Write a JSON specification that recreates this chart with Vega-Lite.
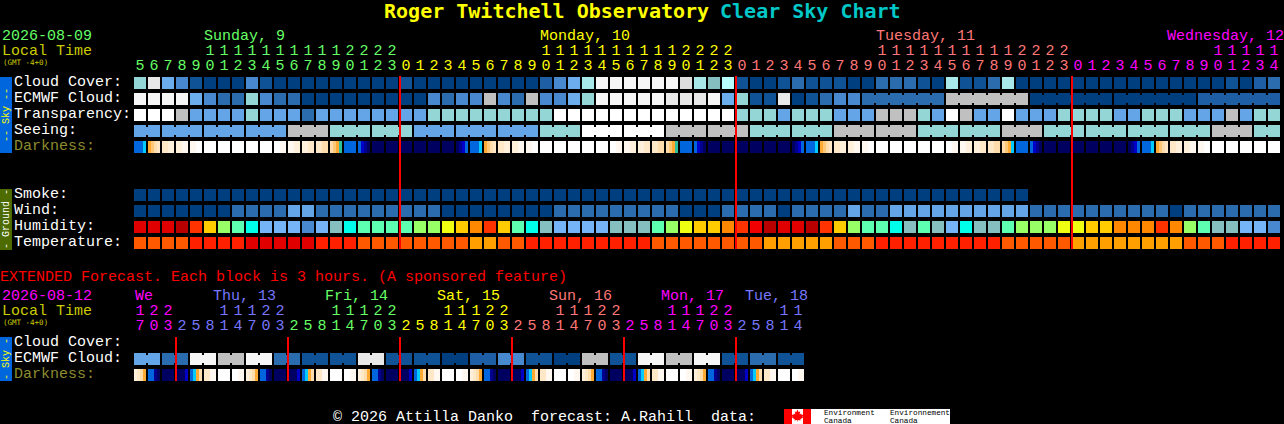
{"$schema":"https://vega.github.io/schema/vega-lite/v6.json","width":1284,"height":424,"padding":0,"autosize":{"type":"none"},"background":"#000000","config":{"view":{"stroke":null}},
"datasets":{
"panels":[{"col":-10,"col2":-9.143,"row":-0.375,"row2":4.375,"lvl":"sky"},{"col":-10,"col2":-9.143,"row":6.625,"row2":10.4375,"lvl":"gnd"},{"col":-10,"col2":-9.143,"row":15.875,"row2":18.625,"lvl":"sky"},{"col":46,"col2":57.857,"row":20.375,"row2":21.3125,"lvl":"w"},{"col":46,"col2":46.571,"row":20.375,"row2":21.3125,"lvl":"rd"},{"col":47.357,"col2":47.93,"row":20.375,"row2":21.3125,"lvl":"rd"}],
"rules":[{"col":18.5714,"row":-0.4375,"row2":10.375,"lvl":"rd"},{"col":42.5714,"row":-0.4375,"row2":10.375,"lvl":"rd"},{"col":66.5714,"row":-0.4375,"row2":10.375,"lvl":"rd"},{"col":2.5714,"row":15.875,"row2":18.625,"lvl":"rd"},{"col":10.5714,"row":15.875,"row2":18.625,"lvl":"rd"},{"col":18.5714,"row":15.875,"row2":18.625,"lvl":"rd"},{"col":26.5714,"row":15.875,"row2":18.625,"lvl":"rd"},{"col":34.5714,"row":15.875,"row2":18.625,"lvl":"rd"},{"col":42.5714,"row":15.875,"row2":18.625,"lvl":"rd"}],
"leaf":[{"col":46.964,"row":20.78,"lvl":"rd"}],
"cells":[
{"col":0,"row":0,"lvl":"t1"},{"col":1,"row":0,"lvl":"g2"},{"col":2,"row":0,"lvl":"b5"},{"col":3,"row":0,"lvl":"b3"},{"col":4,"row":0,"lvl":"b1"},{"col":5,"row":0,"lvl":"b0"},{"col":6,"row":0,"lvl":"b0"},{"col":7,"row":0,"lvl":"b0"},{"col":8,"row":0,"lvl":"b3"},{"col":9,"row":0,"lvl":"b1"},{"col":10,"row":0,"lvl":"b0"},{"col":11,"row":0,"lvl":"b0"},{"col":12,"row":0,"lvl":"b0"},{"col":13,"row":0,"lvl":"b0"},{"col":14,"row":0,"lvl":"b0"},{"col":15,"row":0,"lvl":"b0"},{"col":16,"row":0,"lvl":"b0"},{"col":17,"row":0,"lvl":"b0"},{"col":18,"row":0,"lvl":"b0"},{"col":19,"row":0,"lvl":"b1"},{"col":20,"row":0,"lvl":"b0"},{"col":21,"row":0,"lvl":"b0"},{"col":22,"row":0,"lvl":"b0"},{"col":23,"row":0,"lvl":"b0"},{"col":24,"row":0,"lvl":"b0"},{"col":25,"row":0,"lvl":"b0"},{"col":26,"row":0,"lvl":"b0"},{"col":27,"row":0,"lvl":"b0"},{"col":28,"row":0,"lvl":"b0"},{"col":29,"row":0,"lvl":"b1x"},{"col":30,"row":0,"lvl":"b3"},{"col":31,"row":0,"lvl":"b5"},{"col":32,"row":0,"lvl":"t2"},{"col":33,"row":0,"lvl":"g3"},{"col":34,"row":0,"lvl":"g3"},{"col":35,"row":0,"lvl":"g3"},{"col":36,"row":0,"lvl":"g3"},{"col":37,"row":0,"lvl":"g3"},{"col":38,"row":0,"lvl":"g3"},{"col":39,"row":0,"lvl":"g1"},{"col":40,"row":0,"lvl":"t2"},{"col":41,"row":0,"lvl":"tg"},{"col":42,"row":0,"lvl":"t3"},{"col":43,"row":0,"lvl":"b1"},{"col":44,"row":0,"lvl":"b0"},{"col":45,"row":0,"lvl":"b0"},{"col":46,"row":0,"lvl":"b1"},{"col":47,"row":0,"lvl":"b2"},{"col":48,"row":0,"lvl":"b1"},{"col":49,"row":0,"lvl":"b1"},{"col":50,"row":0,"lvl":"b1"},{"col":51,"row":0,"lvl":"b0"},{"col":52,"row":0,"lvl":"b0"},{"col":53,"row":0,"lvl":"b2"},{"col":54,"row":0,"lvl":"b2"},{"col":55,"row":0,"lvl":"b2"},{"col":56,"row":0,"lvl":"b1"},{"col":57,"row":0,"lvl":"b0"},{"col":58,"row":0,"lvl":"t2"},{"col":59,"row":0,"lvl":"b1"},{"col":60,"row":0,"lvl":"b1"},{"col":61,"row":0,"lvl":"b2"},{"col":62,"row":0,"lvl":"t2"},{"col":63,"row":0,"lvl":"b0"},{"col":64,"row":0,"lvl":"b0"},{"col":65,"row":0,"lvl":"b0"},{"col":66,"row":0,"lvl":"b0"},{"col":67,"row":0,"lvl":"b0"},{"col":68,"row":0,"lvl":"b0"},{"col":69,"row":0,"lvl":"b0"},{"col":70,"row":0,"lvl":"b0"},{"col":71,"row":0,"lvl":"b0"},{"col":72,"row":0,"lvl":"b0"},{"col":73,"row":0,"lvl":"b0"},{"col":74,"row":0,"lvl":"b0"},{"col":75,"row":0,"lvl":"b0"},{"col":76,"row":0,"lvl":"b0"},{"col":77,"row":0,"lvl":"b0"},{"col":78,"row":0,"lvl":"b1"},{"col":79,"row":0,"lvl":"b0"},{"col":80,"row":0,"lvl":"b1x"},{"col":81,"row":0,"lvl":"b2"},
{"col":0,"row":1,"lvl":"g3"},{"col":1,"row":1,"lvl":"g3"},{"col":2,"row":1,"lvl":"g3"},{"col":3,"row":1,"lvl":"g3"},{"col":4,"row":1,"lvl":"b5"},{"col":5,"row":1,"lvl":"b3"},{"col":6,"row":1,"lvl":"b2"},{"col":7,"row":1,"lvl":"b2"},{"col":8,"row":1,"lvl":"t1"},{"col":9,"row":1,"lvl":"b3"},{"col":10,"row":1,"lvl":"b2"},{"col":11,"row":1,"lvl":"b2"},{"col":12,"row":1,"lvl":"b0"},{"col":13,"row":1,"lvl":"b0"},{"col":14,"row":1,"lvl":"b0"},{"col":15,"row":1,"lvl":"b0"},{"col":16,"row":1,"lvl":"b0"},{"col":17,"row":1,"lvl":"b0"},{"col":18,"row":1,"lvl":"b0"},{"col":19,"row":1,"lvl":"b0"},{"col":20,"row":1,"lvl":"b0"},{"col":21,"row":1,"lvl":"b3"},{"col":22,"row":1,"lvl":"b2"},{"col":23,"row":1,"lvl":"b3"},{"col":24,"row":1,"lvl":"b3"},{"col":25,"row":1,"lvl":"g0"},{"col":26,"row":1,"lvl":"b3"},{"col":27,"row":1,"lvl":"b2"},{"col":28,"row":1,"lvl":"g0"},{"col":29,"row":1,"lvl":"b3"},{"col":30,"row":1,"lvl":"b3"},{"col":31,"row":1,"lvl":"b5"},{"col":32,"row":1,"lvl":"t1"},{"col":33,"row":1,"lvl":"g3"},{"col":34,"row":1,"lvl":"g3"},{"col":35,"row":1,"lvl":"g3"},{"col":36,"row":1,"lvl":"g3"},{"col":37,"row":1,"lvl":"g3"},{"col":38,"row":1,"lvl":"g2"},{"col":39,"row":1,"lvl":"g2"},{"col":40,"row":1,"lvl":"g2"},{"col":41,"row":1,"lvl":"g3"},{"col":42,"row":1,"lvl":"b5"},{"col":43,"row":1,"lvl":"t1"},{"col":44,"row":1,"lvl":"b1"},{"col":45,"row":1,"lvl":"b1"},{"col":46,"row":1,"lvl":"g2"},{"col":47,"row":1,"lvl":"b0"},{"col":48,"row":1,"lvl":"b1"},{"col":49,"row":1,"lvl":"b2"},{"col":50,"row":1,"lvl":"b3"},{"col":51,"row":1,"lvl":"b3"},{"col":52,"row":1,"lvl":"b2"},{"col":53,"row":1,"lvl":"b2"},{"col":54,"row":1,"lvl":"b2"},{"col":55,"row":1,"lvl":"b2"},{"col":56,"row":1,"lvl":"b2"},{"col":57,"row":1,"lvl":"b2"},{"col":58,"row":1,"lvl":"g0"},{"col":59,"row":1,"lvl":"g0"},{"col":60,"row":1,"lvl":"g0"},{"col":61,"row":1,"lvl":"g0"},{"col":62,"row":1,"lvl":"g0"},{"col":63,"row":1,"lvl":"g0"},{"col":64,"row":1,"lvl":"b0"},{"col":65,"row":1,"lvl":"b0"},{"col":66,"row":1,"lvl":"b0"},{"col":67,"row":1,"lvl":"b0"},{"col":68,"row":1,"lvl":"b0"},{"col":69,"row":1,"lvl":"b0"},{"col":70,"row":1,"lvl":"b0"},{"col":71,"row":1,"lvl":"b0"},{"col":72,"row":1,"lvl":"b0"},{"col":73,"row":1,"lvl":"b0"},{"col":74,"row":1,"lvl":"b0"},{"col":75,"row":1,"lvl":"b0"},{"col":76,"row":1,"lvl":"b1x"},{"col":77,"row":1,"lvl":"b1x"},{"col":78,"row":1,"lvl":"b1x"},{"col":79,"row":1,"lvl":"b1x"},{"col":80,"row":1,"lvl":"b1x"},{"col":81,"row":1,"lvl":"b1x"},
{"col":0,"row":2,"lvl":"w"},{"col":1,"row":2,"lvl":"w"},{"col":2,"row":2,"lvl":"w"},{"col":3,"row":2,"lvl":"g0"},{"col":4,"row":2,"lvl":"b4"},{"col":5,"row":2,"lvl":"b4"},{"col":6,"row":2,"lvl":"b4"},{"col":7,"row":2,"lvl":"b4"},{"col":8,"row":2,"lvl":"t1"},{"col":9,"row":2,"lvl":"b4"},{"col":10,"row":2,"lvl":"b4"},{"col":11,"row":2,"lvl":"b4"},{"col":12,"row":2,"lvl":"b2"},{"col":13,"row":2,"lvl":"b4"},{"col":14,"row":2,"lvl":"b4"},{"col":15,"row":2,"lvl":"b4"},{"col":16,"row":2,"lvl":"b4"},{"col":17,"row":2,"lvl":"b4"},{"col":18,"row":2,"lvl":"b4"},{"col":19,"row":2,"lvl":"b4"},{"col":20,"row":2,"lvl":"b4"},{"col":21,"row":2,"lvl":"t1"},{"col":22,"row":2,"lvl":"t1"},{"col":23,"row":2,"lvl":"t1"},{"col":24,"row":2,"lvl":"t1"},{"col":25,"row":2,"lvl":"t1"},{"col":26,"row":2,"lvl":"t1"},{"col":27,"row":2,"lvl":"t1"},{"col":28,"row":2,"lvl":"t1"},{"col":29,"row":2,"lvl":"t1"},{"col":30,"row":2,"lvl":"w"},{"col":31,"row":2,"lvl":"w"},{"col":32,"row":2,"lvl":"w"},{"col":33,"row":2,"lvl":"w"},{"col":34,"row":2,"lvl":"w"},{"col":35,"row":2,"lvl":"w"},{"col":36,"row":2,"lvl":"w"},{"col":37,"row":2,"lvl":"w"},{"col":38,"row":2,"lvl":"w"},{"col":39,"row":2,"lvl":"w"},{"col":40,"row":2,"lvl":"w"},{"col":41,"row":2,"lvl":"w"},{"col":42,"row":2,"lvl":"w"},{"col":43,"row":2,"lvl":"t1"},{"col":44,"row":2,"lvl":"t1"},{"col":45,"row":2,"lvl":"t1"},{"col":46,"row":2,"lvl":"b4"},{"col":47,"row":2,"lvl":"t1"},{"col":48,"row":2,"lvl":"t1"},{"col":49,"row":2,"lvl":"t1"},{"col":50,"row":2,"lvl":"b4"},{"col":51,"row":2,"lvl":"b4"},{"col":52,"row":2,"lvl":"b4"},{"col":53,"row":2,"lvl":"g0"},{"col":54,"row":2,"lvl":"g0"},{"col":55,"row":2,"lvl":"g0"},{"col":56,"row":2,"lvl":"t1"},{"col":57,"row":2,"lvl":"b4"},{"col":58,"row":2,"lvl":"w"},{"col":59,"row":2,"lvl":"g0"},{"col":60,"row":2,"lvl":"b4"},{"col":61,"row":2,"lvl":"b4"},{"col":62,"row":2,"lvl":"w"},{"col":63,"row":2,"lvl":"b4"},{"col":64,"row":2,"lvl":"b4"},{"col":65,"row":2,"lvl":"b4"},{"col":66,"row":2,"lvl":"t1"},{"col":67,"row":2,"lvl":"t1"},{"col":68,"row":2,"lvl":"t1"},{"col":69,"row":2,"lvl":"t1"},{"col":70,"row":2,"lvl":"b4"},{"col":71,"row":2,"lvl":"b4"},{"col":72,"row":2,"lvl":"t1"},{"col":73,"row":2,"lvl":"t1"},{"col":74,"row":2,"lvl":"t1"},{"col":75,"row":2,"lvl":"b4"},{"col":76,"row":2,"lvl":"b4"},{"col":77,"row":2,"lvl":"b4"},{"col":78,"row":2,"lvl":"g0"},{"col":79,"row":2,"lvl":"b4"},{"col":80,"row":2,"lvl":"t1"},{"col":81,"row":2,"lvl":"t1"},
{"col":0,"row":3,"lvl":"b4"},{"col":1,"row":3,"lvl":"b4"},{"col":2,"row":3,"lvl":"b4"},{"col":3,"row":3,"lvl":"b4"},{"col":4,"row":3,"lvl":"b4"},{"col":5,"row":3,"lvl":"b4"},{"col":6,"row":3,"lvl":"b4"},{"col":7,"row":3,"lvl":"b4"},{"col":8,"row":3,"lvl":"b4"},{"col":9,"row":3,"lvl":"b4"},{"col":10,"row":3,"lvl":"b4"},{"col":11,"row":3,"lvl":"g0"},{"col":12,"row":3,"lvl":"g0"},{"col":13,"row":3,"lvl":"g0"},{"col":14,"row":3,"lvl":"t1"},{"col":15,"row":3,"lvl":"t1"},{"col":16,"row":3,"lvl":"t1"},{"col":17,"row":3,"lvl":"t1"},{"col":18,"row":3,"lvl":"t1"},{"col":19,"row":3,"lvl":"t1"},{"col":20,"row":3,"lvl":"b4"},{"col":21,"row":3,"lvl":"b4"},{"col":22,"row":3,"lvl":"b4"},{"col":23,"row":3,"lvl":"b4"},{"col":24,"row":3,"lvl":"b4"},{"col":25,"row":3,"lvl":"b4"},{"col":26,"row":3,"lvl":"b4"},{"col":27,"row":3,"lvl":"b4"},{"col":28,"row":3,"lvl":"b4"},{"col":29,"row":3,"lvl":"t1"},{"col":30,"row":3,"lvl":"t1"},{"col":31,"row":3,"lvl":"t1"},{"col":32,"row":3,"lvl":"w"},{"col":33,"row":3,"lvl":"w"},{"col":34,"row":3,"lvl":"w"},{"col":35,"row":3,"lvl":"w"},{"col":36,"row":3,"lvl":"w"},{"col":37,"row":3,"lvl":"w"},{"col":38,"row":3,"lvl":"g0"},{"col":39,"row":3,"lvl":"g0"},{"col":40,"row":3,"lvl":"g0"},{"col":41,"row":3,"lvl":"g0"},{"col":42,"row":3,"lvl":"g0"},{"col":43,"row":3,"lvl":"g0"},{"col":44,"row":3,"lvl":"t1"},{"col":45,"row":3,"lvl":"t1"},{"col":46,"row":3,"lvl":"t1"},{"col":47,"row":3,"lvl":"t1"},{"col":48,"row":3,"lvl":"t1"},{"col":49,"row":3,"lvl":"t1"},{"col":50,"row":3,"lvl":"g0"},{"col":51,"row":3,"lvl":"g0"},{"col":52,"row":3,"lvl":"g0"},{"col":53,"row":3,"lvl":"g0"},{"col":54,"row":3,"lvl":"g0"},{"col":55,"row":3,"lvl":"g0"},{"col":56,"row":3,"lvl":"t1"},{"col":57,"row":3,"lvl":"t1"},{"col":58,"row":3,"lvl":"t1"},{"col":59,"row":3,"lvl":"t1"},{"col":60,"row":3,"lvl":"t1"},{"col":61,"row":3,"lvl":"t1"},{"col":62,"row":3,"lvl":"g0"},{"col":63,"row":3,"lvl":"g0"},{"col":64,"row":3,"lvl":"g0"},{"col":65,"row":3,"lvl":"t1"},{"col":66,"row":3,"lvl":"t1"},{"col":67,"row":3,"lvl":"t1"},{"col":68,"row":3,"lvl":"t1"},{"col":69,"row":3,"lvl":"t1"},{"col":70,"row":3,"lvl":"t1"},{"col":71,"row":3,"lvl":"t1"},{"col":72,"row":3,"lvl":"t1"},{"col":73,"row":3,"lvl":"t1"},{"col":74,"row":3,"lvl":"t1"},{"col":75,"row":3,"lvl":"t1"},{"col":76,"row":3,"lvl":"t1"},{"col":77,"row":3,"lvl":"g0"},{"col":78,"row":3,"lvl":"g0"},{"col":79,"row":3,"lvl":"g0"},{"col":80,"row":3,"lvl":"t1"},{"col":81,"row":3,"lvl":"t1"},
{"col":5,"row":4,"lvl":"w"},{"col":6,"row":4,"lvl":"w"},{"col":7,"row":4,"lvl":"w"},{"col":8,"row":4,"lvl":"w"},{"col":9,"row":4,"lvl":"w"},{"col":15,"row":4,"lvl":"bl"},{"col":17,"row":4,"lvl":"n0"},{"col":18,"row":4,"lvl":"n0"},{"col":19,"row":4,"lvl":"n0"},{"col":20,"row":4,"lvl":"n0"},{"col":21,"row":4,"lvl":"n0"},{"col":22,"row":4,"lvl":"n0"},{"col":29,"row":4,"lvl":"w"},{"col":30,"row":4,"lvl":"w"},{"col":31,"row":4,"lvl":"w"},{"col":32,"row":4,"lvl":"w"},{"col":33,"row":4,"lvl":"w"},{"col":39,"row":4,"lvl":"bl"},{"col":41,"row":4,"lvl":"n0"},{"col":42,"row":4,"lvl":"n0"},{"col":43,"row":4,"lvl":"n0"},{"col":44,"row":4,"lvl":"n0"},{"col":45,"row":4,"lvl":"n0"},{"col":46,"row":4,"lvl":"n0"},{"col":53,"row":4,"lvl":"w"},{"col":54,"row":4,"lvl":"w"},{"col":55,"row":4,"lvl":"w"},{"col":56,"row":4,"lvl":"w"},{"col":57,"row":4,"lvl":"w"},{"col":63,"row":4,"lvl":"bl"},{"col":65,"row":4,"lvl":"n0"},{"col":66,"row":4,"lvl":"n0"},{"col":67,"row":4,"lvl":"n0"},{"col":68,"row":4,"lvl":"n0"},{"col":69,"row":4,"lvl":"n0"},{"col":70,"row":4,"lvl":"n0"},{"col":77,"row":4,"lvl":"w"},{"col":78,"row":4,"lvl":"w"},{"col":79,"row":4,"lvl":"w"},{"col":80,"row":4,"lvl":"w"},{"col":81,"row":4,"lvl":"w"},
{"col":0,"row":7,"lvl":"b0"},{"col":1,"row":7,"lvl":"b0"},{"col":2,"row":7,"lvl":"b0"},{"col":3,"row":7,"lvl":"b0"},{"col":4,"row":7,"lvl":"b0"},{"col":5,"row":7,"lvl":"b0"},{"col":6,"row":7,"lvl":"b0"},{"col":7,"row":7,"lvl":"b0"},{"col":8,"row":7,"lvl":"b0"},{"col":9,"row":7,"lvl":"b0"},{"col":10,"row":7,"lvl":"b0"},{"col":11,"row":7,"lvl":"b0"},{"col":12,"row":7,"lvl":"b0"},{"col":13,"row":7,"lvl":"b0"},{"col":14,"row":7,"lvl":"b0"},{"col":15,"row":7,"lvl":"b0"},{"col":16,"row":7,"lvl":"b0"},{"col":17,"row":7,"lvl":"b0"},{"col":18,"row":7,"lvl":"b0"},{"col":19,"row":7,"lvl":"b0"},{"col":20,"row":7,"lvl":"b0"},{"col":21,"row":7,"lvl":"b0"},{"col":22,"row":7,"lvl":"b0"},{"col":23,"row":7,"lvl":"b0"},{"col":24,"row":7,"lvl":"b0"},{"col":25,"row":7,"lvl":"b0"},{"col":26,"row":7,"lvl":"b0"},{"col":27,"row":7,"lvl":"b0"},{"col":28,"row":7,"lvl":"b0"},{"col":29,"row":7,"lvl":"b0"},{"col":30,"row":7,"lvl":"b0"},{"col":31,"row":7,"lvl":"b0"},{"col":32,"row":7,"lvl":"b0"},{"col":33,"row":7,"lvl":"b0"},{"col":34,"row":7,"lvl":"b0"},{"col":35,"row":7,"lvl":"b0"},{"col":36,"row":7,"lvl":"b0"},{"col":37,"row":7,"lvl":"b0"},{"col":38,"row":7,"lvl":"b0"},{"col":39,"row":7,"lvl":"b0"},{"col":40,"row":7,"lvl":"b0"},{"col":41,"row":7,"lvl":"b0"},{"col":42,"row":7,"lvl":"b0"},{"col":43,"row":7,"lvl":"b0"},{"col":44,"row":7,"lvl":"b0"},{"col":45,"row":7,"lvl":"b0"},{"col":46,"row":7,"lvl":"b0"},{"col":47,"row":7,"lvl":"b0"},{"col":48,"row":7,"lvl":"b0"},{"col":49,"row":7,"lvl":"b0"},{"col":50,"row":7,"lvl":"b0"},{"col":51,"row":7,"lvl":"b0"},{"col":52,"row":7,"lvl":"b0"},{"col":53,"row":7,"lvl":"b0"},{"col":54,"row":7,"lvl":"b0"},{"col":55,"row":7,"lvl":"b0"},{"col":56,"row":7,"lvl":"b0"},{"col":57,"row":7,"lvl":"b0"},{"col":58,"row":7,"lvl":"b0"},{"col":59,"row":7,"lvl":"b0"},{"col":60,"row":7,"lvl":"b0"},{"col":61,"row":7,"lvl":"b0"},{"col":62,"row":7,"lvl":"b0"},{"col":63,"row":7,"lvl":"b0"},
{"col":0,"row":8,"lvl":"b0"},{"col":1,"row":8,"lvl":"b0"},{"col":2,"row":8,"lvl":"b0"},{"col":3,"row":8,"lvl":"b0"},{"col":4,"row":8,"lvl":"b0"},{"col":5,"row":8,"lvl":"b0"},{"col":6,"row":8,"lvl":"b0"},{"col":7,"row":8,"lvl":"b2"},{"col":8,"row":8,"lvl":"b2"},{"col":9,"row":8,"lvl":"b2"},{"col":10,"row":8,"lvl":"b2"},{"col":11,"row":8,"lvl":"b4"},{"col":12,"row":8,"lvl":"b4"},{"col":13,"row":8,"lvl":"b2"},{"col":14,"row":8,"lvl":"b2"},{"col":15,"row":8,"lvl":"b2"},{"col":16,"row":8,"lvl":"b2"},{"col":17,"row":8,"lvl":"b2"},{"col":18,"row":8,"lvl":"b2"},{"col":19,"row":8,"lvl":"b2"},{"col":20,"row":8,"lvl":"b2"},{"col":21,"row":8,"lvl":"b2"},{"col":22,"row":8,"lvl":"b0"},{"col":23,"row":8,"lvl":"b0"},{"col":24,"row":8,"lvl":"b0"},{"col":25,"row":8,"lvl":"b0"},{"col":26,"row":8,"lvl":"b0"},{"col":27,"row":8,"lvl":"b0"},{"col":28,"row":8,"lvl":"b0"},{"col":29,"row":8,"lvl":"b0"},{"col":30,"row":8,"lvl":"b2"},{"col":31,"row":8,"lvl":"b2"},{"col":32,"row":8,"lvl":"b2"},{"col":33,"row":8,"lvl":"b2"},{"col":34,"row":8,"lvl":"b2"},{"col":35,"row":8,"lvl":"b2"},{"col":36,"row":8,"lvl":"b2"},{"col":37,"row":8,"lvl":"b2"},{"col":38,"row":8,"lvl":"b2"},{"col":39,"row":8,"lvl":"b0"},{"col":40,"row":8,"lvl":"b0"},{"col":41,"row":8,"lvl":"b0"},{"col":42,"row":8,"lvl":"b2"},{"col":43,"row":8,"lvl":"b2"},{"col":44,"row":8,"lvl":"b2"},{"col":45,"row":8,"lvl":"b2"},{"col":46,"row":8,"lvl":"b0"},{"col":47,"row":8,"lvl":"b2"},{"col":48,"row":8,"lvl":"b2"},{"col":49,"row":8,"lvl":"b2"},{"col":50,"row":8,"lvl":"b2"},{"col":51,"row":8,"lvl":"b4"},{"col":52,"row":8,"lvl":"b2"},{"col":53,"row":8,"lvl":"b2"},{"col":54,"row":8,"lvl":"b4"},{"col":55,"row":8,"lvl":"b4"},{"col":56,"row":8,"lvl":"b4"},{"col":57,"row":8,"lvl":"b4"},{"col":58,"row":8,"lvl":"b4"},{"col":59,"row":8,"lvl":"b4"},{"col":60,"row":8,"lvl":"b4"},{"col":61,"row":8,"lvl":"b4"},{"col":62,"row":8,"lvl":"b4"},{"col":63,"row":8,"lvl":"b4"},{"col":64,"row":8,"lvl":"b2"},{"col":65,"row":8,"lvl":"b2"},{"col":66,"row":8,"lvl":"b2"},{"col":67,"row":8,"lvl":"b2"},{"col":68,"row":8,"lvl":"b2"},{"col":69,"row":8,"lvl":"b2"},{"col":70,"row":8,"lvl":"b2"},{"col":71,"row":8,"lvl":"b2"},{"col":72,"row":8,"lvl":"b2"},{"col":73,"row":8,"lvl":"b2"},{"col":74,"row":8,"lvl":"b0"},{"col":75,"row":8,"lvl":"b2"},{"col":76,"row":8,"lvl":"b2"},{"col":77,"row":8,"lvl":"b2"},{"col":78,"row":8,"lvl":"b2"},{"col":79,"row":8,"lvl":"b2"},{"col":80,"row":8,"lvl":"b2"},{"col":81,"row":8,"lvl":"b2"},
{"col":0,"row":9,"lvl":"hr1"},{"col":1,"row":9,"lvl":"hr1"},{"col":2,"row":9,"lvl":"hr1"},{"col":3,"row":9,"lvl":"hr2"},{"col":4,"row":9,"lvl":"ho1"},{"col":5,"row":9,"lvl":"hy1"},{"col":6,"row":9,"lvl":"hl"},{"col":7,"row":9,"lvl":"hm"},{"col":8,"row":9,"lvl":"hc"},{"col":9,"row":9,"lvl":"hs"},{"col":10,"row":9,"lvl":"hs"},{"col":11,"row":9,"lvl":"hs"},{"col":12,"row":9,"lvl":"b3"},{"col":13,"row":9,"lvl":"hs"},{"col":14,"row":9,"lvl":"tg"},{"col":15,"row":9,"lvl":"hc"},{"col":16,"row":9,"lvl":"hm"},{"col":17,"row":9,"lvl":"hm"},{"col":18,"row":9,"lvl":"hm"},{"col":19,"row":9,"lvl":"hm"},{"col":20,"row":9,"lvl":"hl"},{"col":21,"row":9,"lvl":"hl"},{"col":22,"row":9,"lvl":"hy2"},{"col":23,"row":9,"lvl":"hy1"},{"col":24,"row":9,"lvl":"ho2"},{"col":25,"row":9,"lvl":"ho1"},{"col":26,"row":9,"lvl":"hy1"},{"col":27,"row":9,"lvl":"hm"},{"col":28,"row":9,"lvl":"hc"},{"col":29,"row":9,"lvl":"tg"},{"col":30,"row":9,"lvl":"hs"},{"col":31,"row":9,"lvl":"hs"},{"col":32,"row":9,"lvl":"hs"},{"col":33,"row":9,"lvl":"hs"},{"col":34,"row":9,"lvl":"tg"},{"col":35,"row":9,"lvl":"tg"},{"col":36,"row":9,"lvl":"tg"},{"col":37,"row":9,"lvl":"hm"},{"col":38,"row":9,"lvl":"hl"},{"col":39,"row":9,"lvl":"hy2"},{"col":40,"row":9,"lvl":"hy1"},{"col":41,"row":9,"lvl":"hy1"},{"col":42,"row":9,"lvl":"ho2"},{"col":43,"row":9,"lvl":"ho1"},{"col":44,"row":9,"lvl":"hr3"},{"col":45,"row":9,"lvl":"hr2"},{"col":46,"row":9,"lvl":"hr1"},{"col":47,"row":9,"lvl":"hr1"},{"col":48,"row":9,"lvl":"hr2"},{"col":49,"row":9,"lvl":"ho1"},{"col":50,"row":9,"lvl":"hy1"},{"col":51,"row":9,"lvl":"hl"},{"col":52,"row":9,"lvl":"hm"},{"col":53,"row":9,"lvl":"hm"},{"col":54,"row":9,"lvl":"hc"},{"col":55,"row":9,"lvl":"tg"},{"col":56,"row":9,"lvl":"hm"},{"col":57,"row":9,"lvl":"tg"},{"col":58,"row":9,"lvl":"hs"},{"col":59,"row":9,"lvl":"hc"},{"col":60,"row":9,"lvl":"tg"},{"col":61,"row":9,"lvl":"tg"},{"col":62,"row":9,"lvl":"hm"},{"col":63,"row":9,"lvl":"hl"},{"col":64,"row":9,"lvl":"hl"},{"col":65,"row":9,"lvl":"hl"},{"col":66,"row":9,"lvl":"hy2"},{"col":67,"row":9,"lvl":"hy2"},{"col":68,"row":9,"lvl":"hy1"},{"col":69,"row":9,"lvl":"hy1"},{"col":70,"row":9,"lvl":"ho2"},{"col":71,"row":9,"lvl":"ho2"},{"col":72,"row":9,"lvl":"ho2"},{"col":73,"row":9,"lvl":"ho1"},{"col":74,"row":9,"lvl":"ho2"},{"col":75,"row":9,"lvl":"hl"},{"col":76,"row":9,"lvl":"hm"},{"col":77,"row":9,"lvl":"tg"},{"col":78,"row":9,"lvl":"tg"},{"col":79,"row":9,"lvl":"hs"},{"col":80,"row":9,"lvl":"hs"},{"col":81,"row":9,"lvl":"b3"},
{"col":0,"row":10,"lvl":"tp1"},{"col":1,"row":10,"lvl":"tp1"},{"col":2,"row":10,"lvl":"tp1"},{"col":3,"row":10,"lvl":"tp1"},{"col":4,"row":10,"lvl":"tp3"},{"col":5,"row":10,"lvl":"tp3"},{"col":6,"row":10,"lvl":"tp3"},{"col":7,"row":10,"lvl":"tp3"},{"col":8,"row":10,"lvl":"tp4"},{"col":9,"row":10,"lvl":"tp4"},{"col":10,"row":10,"lvl":"tp4"},{"col":11,"row":10,"lvl":"tp4"},{"col":12,"row":10,"lvl":"tp4"},{"col":13,"row":10,"lvl":"tp3"},{"col":14,"row":10,"lvl":"tp3"},{"col":15,"row":10,"lvl":"tp3"},{"col":16,"row":10,"lvl":"tp1"},{"col":17,"row":10,"lvl":"tp1"},{"col":18,"row":10,"lvl":"tp1"},{"col":19,"row":10,"lvl":"tp1"},{"col":20,"row":10,"lvl":"tp1"},{"col":21,"row":10,"lvl":"tp1"},{"col":22,"row":10,"lvl":"tp1"},{"col":23,"row":10,"lvl":"tp1"},{"col":24,"row":10,"lvl":"tp2"},{"col":25,"row":10,"lvl":"tp2"},{"col":26,"row":10,"lvl":"tp1"},{"col":27,"row":10,"lvl":"tp1"},{"col":28,"row":10,"lvl":"tp3"},{"col":29,"row":10,"lvl":"tp3"},{"col":30,"row":10,"lvl":"tp3"},{"col":31,"row":10,"lvl":"tp3"},{"col":32,"row":10,"lvl":"tp3"},{"col":33,"row":10,"lvl":"tp3"},{"col":34,"row":10,"lvl":"tp3"},{"col":35,"row":10,"lvl":"tp3"},{"col":36,"row":10,"lvl":"tp3"},{"col":37,"row":10,"lvl":"tp1"},{"col":38,"row":10,"lvl":"tp1"},{"col":39,"row":10,"lvl":"tp1"},{"col":40,"row":10,"lvl":"tp1"},{"col":41,"row":10,"lvl":"tp1"},{"col":42,"row":10,"lvl":"tp1"},{"col":43,"row":10,"lvl":"tp1"},{"col":44,"row":10,"lvl":"tp1"},{"col":45,"row":10,"lvl":"tp2"},{"col":46,"row":10,"lvl":"tp2"},{"col":47,"row":10,"lvl":"tp2"},{"col":48,"row":10,"lvl":"tp2"},{"col":49,"row":10,"lvl":"tp2"},{"col":50,"row":10,"lvl":"tp1"},{"col":51,"row":10,"lvl":"tp1"},{"col":52,"row":10,"lvl":"tp1"},{"col":53,"row":10,"lvl":"tp3"},{"col":54,"row":10,"lvl":"tp3"},{"col":55,"row":10,"lvl":"tp3"},{"col":56,"row":10,"lvl":"tp3"},{"col":57,"row":10,"lvl":"tp3"},{"col":58,"row":10,"lvl":"tp3"},{"col":59,"row":10,"lvl":"tp3"},{"col":60,"row":10,"lvl":"tp3"},{"col":61,"row":10,"lvl":"tp3"},{"col":62,"row":10,"lvl":"tp1"},{"col":63,"row":10,"lvl":"tp1"},{"col":64,"row":10,"lvl":"tp1"},{"col":65,"row":10,"lvl":"tp1"},{"col":66,"row":10,"lvl":"tp1"},{"col":67,"row":10,"lvl":"tp2"},{"col":68,"row":10,"lvl":"tp2"},{"col":69,"row":10,"lvl":"tp2"},{"col":70,"row":10,"lvl":"tp2"},{"col":71,"row":10,"lvl":"tp2"},{"col":72,"row":10,"lvl":"tp2"},{"col":73,"row":10,"lvl":"tp2"},{"col":74,"row":10,"lvl":"tp2"},{"col":75,"row":10,"lvl":"tp1"},{"col":76,"row":10,"lvl":"tp1"},{"col":77,"row":10,"lvl":"tp1"},{"col":78,"row":10,"lvl":"tp3"},{"col":79,"row":10,"lvl":"tp3"},{"col":80,"row":10,"lvl":"tp3"},{"col":81,"row":10,"lvl":"tp3"},
{"col":0,"row":17.25,"lvl":"b4"},{"col":1,"row":17.25,"lvl":"b4"},{"col":2,"row":17.25,"lvl":"b2"},{"col":3,"row":17.25,"lvl":"b2"},{"col":4,"row":17.25,"lvl":"g3"},{"col":5,"row":17.25,"lvl":"g3"},{"col":6,"row":17.25,"lvl":"g0"},{"col":7,"row":17.25,"lvl":"g0"},{"col":8,"row":17.25,"lvl":"g3"},{"col":9,"row":17.25,"lvl":"g3"},{"col":10,"row":17.25,"lvl":"b2"},{"col":11,"row":17.25,"lvl":"b2"},{"col":12,"row":17.25,"lvl":"b1"},{"col":13,"row":17.25,"lvl":"b1"},{"col":14,"row":17.25,"lvl":"b1"},{"col":15,"row":17.25,"lvl":"b1"},{"col":16,"row":17.25,"lvl":"g2"},{"col":17,"row":17.25,"lvl":"g2"},{"col":18,"row":17.25,"lvl":"b1"},{"col":19,"row":17.25,"lvl":"b1"},{"col":20,"row":17.25,"lvl":"b1"},{"col":21,"row":17.25,"lvl":"b1"},{"col":22,"row":17.25,"lvl":"b0"},{"col":23,"row":17.25,"lvl":"b0"},{"col":24,"row":17.25,"lvl":"b1x"},{"col":25,"row":17.25,"lvl":"b1x"},{"col":26,"row":17.25,"lvl":"b3"},{"col":27,"row":17.25,"lvl":"b3"},{"col":28,"row":17.25,"lvl":"b1"},{"col":29,"row":17.25,"lvl":"b1"},{"col":30,"row":17.25,"lvl":"b0"},{"col":31,"row":17.25,"lvl":"b0"},{"col":32,"row":17.25,"lvl":"g0"},{"col":33,"row":17.25,"lvl":"g0"},{"col":34,"row":17.25,"lvl":"b1"},{"col":35,"row":17.25,"lvl":"b1"},{"col":36,"row":17.25,"lvl":"g3"},{"col":37,"row":17.25,"lvl":"g3"},{"col":38,"row":17.25,"lvl":"g0"},{"col":39,"row":17.25,"lvl":"g0"},{"col":40,"row":17.25,"lvl":"g3"},{"col":41,"row":17.25,"lvl":"g3"},{"col":42,"row":17.25,"lvl":"b1"},{"col":43,"row":17.25,"lvl":"b1"},{"col":44,"row":17.25,"lvl":"b2"},{"col":45,"row":17.25,"lvl":"b2"},{"col":46,"row":17.25,"lvl":"b1"},{"col":47,"row":17.25,"lvl":"b1"},
{"col":2,"row":18.25,"lvl":"n0"},{"col":6,"row":18.25,"lvl":"w"},{"col":10,"row":18.25,"lvl":"n0"},{"col":14,"row":18.25,"lvl":"w"},{"col":18,"row":18.25,"lvl":"n0"},{"col":22,"row":18.25,"lvl":"w"},{"col":26,"row":18.25,"lvl":"n0"},{"col":30,"row":18.25,"lvl":"w"},{"col":34,"row":18.25,"lvl":"n0"},{"col":38,"row":18.25,"lvl":"w"},{"col":42,"row":18.25,"lvl":"n0"},{"col":46,"row":18.25,"lvl":"w"}],
"links":[
{"col":52.5,"row":1,"lvl":"b2"},{"col":53.5,"row":1,"lvl":"b2"},{"col":54.5,"row":1,"lvl":"b2"},{"col":55.5,"row":1,"lvl":"b2"},{"col":56.5,"row":1,"lvl":"b2"},{"col":58.5,"row":1,"lvl":"g0"},{"col":59.5,"row":1,"lvl":"g0"},{"col":60.5,"row":1,"lvl":"g0"},{"col":61.5,"row":1,"lvl":"g0"},{"col":62.5,"row":1,"lvl":"g0"},{"col":64.5,"row":1,"lvl":"b0"},{"col":65.5,"row":1,"lvl":"b0"},{"col":66.5,"row":1,"lvl":"b0"},{"col":67.5,"row":1,"lvl":"b0"},{"col":68.5,"row":1,"lvl":"b0"},{"col":70.5,"row":1,"lvl":"b0"},{"col":71.5,"row":1,"lvl":"b0"},{"col":72.5,"row":1,"lvl":"b0"},{"col":73.5,"row":1,"lvl":"b0"},{"col":74.5,"row":1,"lvl":"b0"},{"col":76.5,"row":1,"lvl":"b1x"},{"col":77.5,"row":1,"lvl":"b1x"},{"col":78.5,"row":1,"lvl":"b1x"},{"col":79.5,"row":1,"lvl":"b1x"},{"col":80.5,"row":1,"lvl":"b1x"},
{"col":0.5,"row":3,"lvl":"b4"},{"col":2.5,"row":3,"lvl":"b4"},{"col":3.5,"row":3,"lvl":"b4"},{"col":5.5,"row":3,"lvl":"b4"},{"col":6.5,"row":3,"lvl":"b4"},{"col":8.5,"row":3,"lvl":"b4"},{"col":9.5,"row":3,"lvl":"b4"},{"col":11.5,"row":3,"lvl":"g0"},{"col":12.5,"row":3,"lvl":"g0"},{"col":14.5,"row":3,"lvl":"t1"},{"col":15.5,"row":3,"lvl":"t1"},{"col":17.5,"row":3,"lvl":"t1"},{"col":18.5,"row":3,"lvl":"t1"},{"col":20.5,"row":3,"lvl":"b4"},{"col":21.5,"row":3,"lvl":"b4"},{"col":23.5,"row":3,"lvl":"b4"},{"col":24.5,"row":3,"lvl":"b4"},{"col":26.5,"row":3,"lvl":"b4"},{"col":27.5,"row":3,"lvl":"b4"},{"col":29.5,"row":3,"lvl":"t1"},{"col":30.5,"row":3,"lvl":"t1"},{"col":32.5,"row":3,"lvl":"w"},{"col":33.5,"row":3,"lvl":"w"},{"col":35.5,"row":3,"lvl":"w"},{"col":36.5,"row":3,"lvl":"w"},{"col":38.5,"row":3,"lvl":"g0"},{"col":39.5,"row":3,"lvl":"g0"},{"col":41.5,"row":3,"lvl":"g0"},{"col":42.5,"row":3,"lvl":"g0"},{"col":44.5,"row":3,"lvl":"t1"},{"col":45.5,"row":3,"lvl":"t1"},{"col":47.5,"row":3,"lvl":"t1"},{"col":48.5,"row":3,"lvl":"t1"},{"col":50.5,"row":3,"lvl":"g0"},{"col":51.5,"row":3,"lvl":"g0"},{"col":53.5,"row":3,"lvl":"g0"},{"col":54.5,"row":3,"lvl":"g0"},{"col":56.5,"row":3,"lvl":"t1"},{"col":57.5,"row":3,"lvl":"t1"},{"col":59.5,"row":3,"lvl":"t1"},{"col":60.5,"row":3,"lvl":"t1"},{"col":62.5,"row":3,"lvl":"g0"},{"col":63.5,"row":3,"lvl":"g0"},{"col":65.5,"row":3,"lvl":"t1"},{"col":66.5,"row":3,"lvl":"t1"},{"col":68.5,"row":3,"lvl":"t1"},{"col":69.5,"row":3,"lvl":"t1"},{"col":71.5,"row":3,"lvl":"t1"},{"col":72.5,"row":3,"lvl":"t1"},{"col":74.5,"row":3,"lvl":"t1"},{"col":75.5,"row":3,"lvl":"t1"},{"col":77.5,"row":3,"lvl":"g0"},{"col":78.5,"row":3,"lvl":"g0"},{"col":80.5,"row":3,"lvl":"t1"},
{"col":0.5,"row":17.25,"lvl":"b4"},{"col":2.5,"row":17.25,"lvl":"b2"},{"col":4.5,"row":17.25,"lvl":"g3"},{"col":6.5,"row":17.25,"lvl":"g0"},{"col":8.5,"row":17.25,"lvl":"g3"},{"col":10.5,"row":17.25,"lvl":"b2"},{"col":12.5,"row":17.25,"lvl":"b1"},{"col":14.5,"row":17.25,"lvl":"b1"},{"col":16.5,"row":17.25,"lvl":"g2"},{"col":18.5,"row":17.25,"lvl":"b1"},{"col":20.5,"row":17.25,"lvl":"b1"},{"col":22.5,"row":17.25,"lvl":"b0"},{"col":24.5,"row":17.25,"lvl":"b1x"},{"col":26.5,"row":17.25,"lvl":"b3"},{"col":28.5,"row":17.25,"lvl":"b1"},{"col":30.5,"row":17.25,"lvl":"b0"},{"col":32.5,"row":17.25,"lvl":"g0"},{"col":34.5,"row":17.25,"lvl":"b1"},{"col":36.5,"row":17.25,"lvl":"g3"},{"col":38.5,"row":17.25,"lvl":"g0"},{"col":40.5,"row":17.25,"lvl":"g3"},{"col":42.5,"row":17.25,"lvl":"b1"},{"col":44.5,"row":17.25,"lvl":"b2"},{"col":46.5,"row":17.25,"lvl":"b1"}],
"slices4":[
{"col":-0.3214,"row":4,"lvl":"bl"},{"col":-0.1071,"row":4,"lvl":"bl"},{"col":0.1071,"row":4,"lvl":"bl"},{"col":0.3214,"row":4,"lvl":"cy"},
{"col":0.6786,"row":4,"lvl":"o1"},{"col":0.8929,"row":4,"lvl":"o2"},{"col":1.1071,"row":4,"lvl":"o3"},{"col":1.3214,"row":4,"lvl":"o4"},
{"col":13.6786,"row":4,"lvl":"o3"},{"col":13.8929,"row":4,"lvl":"o2"},{"col":14.1071,"row":4,"lvl":"o1"},{"col":14.3214,"row":4,"lvl":"tl"},
{"col":15.6786,"row":4,"lvl":"bl"},{"col":15.8929,"row":4,"lvl":"n2"},{"col":16.1071,"row":4,"lvl":"n1"},{"col":16.3214,"row":4,"lvl":"n0"},
{"col":22.6786,"row":4,"lvl":"n0"},{"col":22.8929,"row":4,"lvl":"n1"},{"col":23.1071,"row":4,"lvl":"n2"},{"col":23.3214,"row":4,"lvl":"bl"},
{"col":23.6786,"row":4,"lvl":"bl"},{"col":23.8929,"row":4,"lvl":"bl"},{"col":24.1071,"row":4,"lvl":"bl"},{"col":24.3214,"row":4,"lvl":"cy"},
{"col":24.6786,"row":4,"lvl":"o1"},{"col":24.8929,"row":4,"lvl":"o2"},{"col":25.1071,"row":4,"lvl":"o3"},{"col":25.3214,"row":4,"lvl":"o4"},
{"col":37.6786,"row":4,"lvl":"o3"},{"col":37.8929,"row":4,"lvl":"o2"},{"col":38.1071,"row":4,"lvl":"o1"},{"col":38.3214,"row":4,"lvl":"tl"},
{"col":39.6786,"row":4,"lvl":"bl"},{"col":39.8929,"row":4,"lvl":"n2"},{"col":40.1071,"row":4,"lvl":"n1"},{"col":40.3214,"row":4,"lvl":"n0"},
{"col":46.6786,"row":4,"lvl":"n0"},{"col":46.8929,"row":4,"lvl":"n1"},{"col":47.1071,"row":4,"lvl":"n2"},{"col":47.3214,"row":4,"lvl":"bl"},
{"col":47.6786,"row":4,"lvl":"bl"},{"col":47.8929,"row":4,"lvl":"bl"},{"col":48.1071,"row":4,"lvl":"bl"},{"col":48.3214,"row":4,"lvl":"cy"},
{"col":48.6786,"row":4,"lvl":"o1"},{"col":48.8929,"row":4,"lvl":"o2"},{"col":49.1071,"row":4,"lvl":"o3"},{"col":49.3214,"row":4,"lvl":"o4"},
{"col":61.6786,"row":4,"lvl":"o3"},{"col":61.8929,"row":4,"lvl":"o2"},{"col":62.1071,"row":4,"lvl":"o1"},{"col":62.3214,"row":4,"lvl":"cy"},
{"col":63.6786,"row":4,"lvl":"bl"},{"col":63.8929,"row":4,"lvl":"n2"},{"col":64.1071,"row":4,"lvl":"n1"},{"col":64.3214,"row":4,"lvl":"n0"},
{"col":70.6786,"row":4,"lvl":"n0"},{"col":70.8929,"row":4,"lvl":"n1"},{"col":71.1071,"row":4,"lvl":"n2"},{"col":71.3214,"row":4,"lvl":"bl"},
{"col":71.6786,"row":4,"lvl":"bl"},{"col":71.8929,"row":4,"lvl":"bl"},{"col":72.1071,"row":4,"lvl":"bl"},{"col":72.3214,"row":4,"lvl":"cy"},
{"col":72.6786,"row":4,"lvl":"o1"},{"col":72.8929,"row":4,"lvl":"o2"},{"col":73.1071,"row":4,"lvl":"o3"},{"col":73.3214,"row":4,"lvl":"o4"},
{"col":-0.3214,"row":18.25,"lvl":"o5"},{"col":-0.1071,"row":18.25,"lvl":"o4"},{"col":0.1071,"row":18.25,"lvl":"o3"},{"col":0.3214,"row":18.25,"lvl":"o1"},
{"col":0.6786,"row":18.25,"lvl":"bl"},{"col":0.8929,"row":18.25,"lvl":"bl"},{"col":1.1071,"row":18.25,"lvl":"n1"},{"col":1.3214,"row":18.25,"lvl":"n0"},
{"col":2.6786,"row":18.25,"lvl":"n0"},{"col":2.8929,"row":18.25,"lvl":"n0"},{"col":3.1071,"row":18.25,"lvl":"n0"},{"col":3.3214,"row":18.25,"lvl":"n2"},
{"col":3.6786,"row":18.25,"lvl":"bl"},{"col":3.8929,"row":18.25,"lvl":"cy"},{"col":4.1071,"row":18.25,"lvl":"o1"},{"col":4.3214,"row":18.25,"lvl":"o3"},
{"col":7.6786,"row":18.25,"lvl":"o5"},{"col":7.8929,"row":18.25,"lvl":"o4"},{"col":8.1071,"row":18.25,"lvl":"o3"},{"col":8.3214,"row":18.25,"lvl":"o1"},
{"col":8.6786,"row":18.25,"lvl":"bl"},{"col":8.8929,"row":18.25,"lvl":"bl"},{"col":9.1071,"row":18.25,"lvl":"n1"},{"col":9.3214,"row":18.25,"lvl":"n0"},
{"col":10.6786,"row":18.25,"lvl":"n0"},{"col":10.8929,"row":18.25,"lvl":"n0"},{"col":11.1071,"row":18.25,"lvl":"n0"},{"col":11.3214,"row":18.25,"lvl":"n2"},
{"col":11.6786,"row":18.25,"lvl":"bl"},{"col":11.8929,"row":18.25,"lvl":"cy"},{"col":12.1071,"row":18.25,"lvl":"o1"},{"col":12.3214,"row":18.25,"lvl":"o3"},
{"col":15.6786,"row":18.25,"lvl":"o5"},{"col":15.8929,"row":18.25,"lvl":"o4"},{"col":16.1071,"row":18.25,"lvl":"o3"},{"col":16.3214,"row":18.25,"lvl":"o1"},
{"col":16.6786,"row":18.25,"lvl":"bl"},{"col":16.8929,"row":18.25,"lvl":"bl"},{"col":17.1071,"row":18.25,"lvl":"n1"},{"col":17.3214,"row":18.25,"lvl":"n0"},
{"col":18.6786,"row":18.25,"lvl":"n0"},{"col":18.8929,"row":18.25,"lvl":"n0"},{"col":19.1071,"row":18.25,"lvl":"n0"},{"col":19.3214,"row":18.25,"lvl":"n2"},
{"col":19.6786,"row":18.25,"lvl":"bl"},{"col":19.8929,"row":18.25,"lvl":"cy"},{"col":20.1071,"row":18.25,"lvl":"o1"},{"col":20.3214,"row":18.25,"lvl":"o3"},
{"col":23.6786,"row":18.25,"lvl":"o5"},{"col":23.8929,"row":18.25,"lvl":"o4"},{"col":24.1071,"row":18.25,"lvl":"o3"},{"col":24.3214,"row":18.25,"lvl":"o1"},
{"col":24.6786,"row":18.25,"lvl":"bl"},{"col":24.8929,"row":18.25,"lvl":"bl"},{"col":25.1071,"row":18.25,"lvl":"n1"},{"col":25.3214,"row":18.25,"lvl":"n0"},
{"col":26.6786,"row":18.25,"lvl":"n0"},{"col":26.8929,"row":18.25,"lvl":"n0"},{"col":27.1071,"row":18.25,"lvl":"n0"},{"col":27.3214,"row":18.25,"lvl":"n2"},
{"col":27.6786,"row":18.25,"lvl":"bl"},{"col":27.8929,"row":18.25,"lvl":"cy"},{"col":28.1071,"row":18.25,"lvl":"o1"},{"col":28.3214,"row":18.25,"lvl":"o3"},
{"col":31.6786,"row":18.25,"lvl":"o5"},{"col":31.8929,"row":18.25,"lvl":"o4"},{"col":32.1071,"row":18.25,"lvl":"o3"},{"col":32.3214,"row":18.25,"lvl":"o1"},
{"col":32.6786,"row":18.25,"lvl":"bl"},{"col":32.8929,"row":18.25,"lvl":"bl"},{"col":33.1071,"row":18.25,"lvl":"n1"},{"col":33.3214,"row":18.25,"lvl":"n0"},
{"col":34.6786,"row":18.25,"lvl":"n0"},{"col":34.8929,"row":18.25,"lvl":"n0"},{"col":35.1071,"row":18.25,"lvl":"n0"},{"col":35.3214,"row":18.25,"lvl":"n2"},
{"col":35.6786,"row":18.25,"lvl":"bl"},{"col":35.8929,"row":18.25,"lvl":"cy"},{"col":36.1071,"row":18.25,"lvl":"o1"},{"col":36.3214,"row":18.25,"lvl":"o3"},
{"col":39.6786,"row":18.25,"lvl":"o5"},{"col":39.8929,"row":18.25,"lvl":"o4"},{"col":40.1071,"row":18.25,"lvl":"o3"},{"col":40.3214,"row":18.25,"lvl":"o1"},
{"col":40.6786,"row":18.25,"lvl":"bl"},{"col":40.8929,"row":18.25,"lvl":"bl"},{"col":41.1071,"row":18.25,"lvl":"n1"},{"col":41.3214,"row":18.25,"lvl":"n0"},
{"col":42.6786,"row":18.25,"lvl":"n0"},{"col":42.8929,"row":18.25,"lvl":"n0"},{"col":43.1071,"row":18.25,"lvl":"n0"},{"col":43.3214,"row":18.25,"lvl":"n2"},
{"col":43.6786,"row":18.25,"lvl":"bl"},{"col":43.8929,"row":18.25,"lvl":"cy"},{"col":44.1071,"row":18.25,"lvl":"o1"},{"col":44.3214,"row":18.25,"lvl":"o3"}],
"slices2":[
{"col":1.7857,"row":4,"lvl":"o4"},{"col":2.2143,"row":4,"lvl":"o5"},{"col":2.7857,"row":4,"lvl":"o5"},{"col":3.2143,"row":4,"lvl":"o6"},{"col":3.7857,"row":4,"lvl":"o6"},{"col":4.2143,"row":4,"lvl":"w"},{"col":9.7857,"row":4,"lvl":"w"},{"col":10.2143,"row":4,"lvl":"o6"},{"col":10.7857,"row":4,"lvl":"o6"},{"col":11.2143,"row":4,"lvl":"o5"},{"col":11.7857,"row":4,"lvl":"o5"},{"col":12.2143,"row":4,"lvl":"o4"},{"col":12.7857,"row":4,"lvl":"o4"},{"col":13.2143,"row":4,"lvl":"o3"},
{"col":25.7857,"row":4,"lvl":"o4"},{"col":26.2143,"row":4,"lvl":"o5"},{"col":26.7857,"row":4,"lvl":"o5"},{"col":27.2143,"row":4,"lvl":"o6"},{"col":27.7857,"row":4,"lvl":"o6"},{"col":28.2143,"row":4,"lvl":"w"},{"col":33.7857,"row":4,"lvl":"w"},{"col":34.2143,"row":4,"lvl":"o6"},{"col":34.7857,"row":4,"lvl":"o6"},{"col":35.2143,"row":4,"lvl":"o5"},{"col":35.7857,"row":4,"lvl":"o5"},{"col":36.2143,"row":4,"lvl":"o4"},{"col":36.7857,"row":4,"lvl":"o4"},{"col":37.2143,"row":4,"lvl":"o3"},
{"col":49.7857,"row":4,"lvl":"o4"},{"col":50.2143,"row":4,"lvl":"o5"},{"col":50.7857,"row":4,"lvl":"o5"},{"col":51.2143,"row":4,"lvl":"o6"},{"col":51.7857,"row":4,"lvl":"o6"},{"col":52.2143,"row":4,"lvl":"w"},{"col":57.7857,"row":4,"lvl":"w"},{"col":58.2143,"row":4,"lvl":"o6"},{"col":58.7857,"row":4,"lvl":"o6"},{"col":59.2143,"row":4,"lvl":"o5"},{"col":59.7857,"row":4,"lvl":"o5"},{"col":60.2143,"row":4,"lvl":"o4"},{"col":60.7857,"row":4,"lvl":"o4"},{"col":61.2143,"row":4,"lvl":"o3"},
{"col":73.7857,"row":4,"lvl":"o4"},{"col":74.2143,"row":4,"lvl":"o5"},{"col":74.7857,"row":4,"lvl":"o5"},{"col":75.2143,"row":4,"lvl":"o6"},{"col":75.7857,"row":4,"lvl":"o6"},{"col":76.2143,"row":4,"lvl":"w"},
{"col":4.7857,"row":18.25,"lvl":"o4"},{"col":5.2143,"row":18.25,"lvl":"o6"},{"col":6.7857,"row":18.25,"lvl":"w"},{"col":7.2143,"row":18.25,"lvl":"o6"},{"col":12.7857,"row":18.25,"lvl":"o4"},{"col":13.2143,"row":18.25,"lvl":"o6"},{"col":14.7857,"row":18.25,"lvl":"w"},{"col":15.2143,"row":18.25,"lvl":"o6"},{"col":20.7857,"row":18.25,"lvl":"o4"},{"col":21.2143,"row":18.25,"lvl":"o6"},{"col":22.7857,"row":18.25,"lvl":"w"},{"col":23.2143,"row":18.25,"lvl":"o6"},{"col":28.7857,"row":18.25,"lvl":"o4"},{"col":29.2143,"row":18.25,"lvl":"o6"},{"col":30.7857,"row":18.25,"lvl":"w"},{"col":31.2143,"row":18.25,"lvl":"o6"},{"col":36.7857,"row":18.25,"lvl":"o4"},{"col":37.2143,"row":18.25,"lvl":"o6"},{"col":38.7857,"row":18.25,"lvl":"w"},{"col":39.2143,"row":18.25,"lvl":"o6"},{"col":44.7857,"row":18.25,"lvl":"o4"},{"col":45.2143,"row":18.25,"lvl":"o6"},{"col":46.7857,"row":18.25,"lvl":"w"},{"col":47.2143,"row":18.25,"lvl":"o6"}],
"labels":[
{"col":-9.857,"row":-2.875,"txt":"2026-08-09","lvl":"tgr"},{"col":-9.857,"row":-1.9375,"txt":"Local Time","lvl":"tol"},{"col":4.571,"row":-2.875,"txt":"Sunday, 9","lvl":"tgr"},{"col":28.571,"row":-2.875,"txt":"Monday, 10","lvl":"tye"},{"col":52.571,"row":-2.875,"txt":"Tuesday, 11","lvl":"tsa"},{"col":73.357,"row":-2.875,"txt":"Wednesday, 12","lvl":"tma"},
{"col":-9,"row":0,"txt":"Cloud Cover:","lvl":"w"},{"col":-9,"row":1,"txt":"ECMWF Cloud:","lvl":"w"},{"col":-9,"row":2,"txt":"Transparency:","lvl":"w"},{"col":-9,"row":3,"txt":"Seeing:","lvl":"w"},{"col":-9,"row":4,"txt":"Darkness:","lvl":"tdk"},{"col":-9,"row":7,"txt":"Smoke:","lvl":"w"},{"col":-9,"row":8,"txt":"Wind:","lvl":"w"},{"col":-9,"row":9,"txt":"Humidity:","lvl":"w"},{"col":-9,"row":10,"txt":"Temperature:","lvl":"w"},
{"col":-10,"row":12.1875,"txt":"EXTENDED Forecast. Each block is 3 hours. (A sponsored feature)","lvl":"rd"},{"col":-9.857,"row":13.375,"txt":"2026-08-12","lvl":"tma"},{"col":-9.857,"row":14.3125,"txt":"Local Time","lvl":"tol"},
{"col":-0.357,"row":13.375,"txt":"We","lvl":"tma"},{"col":5.214,"row":13.375,"txt":"Thu, 13","lvl":"tvi"},{"col":13.214,"row":13.375,"txt":"Fri, 14","lvl":"tgr"},{"col":21.214,"row":13.375,"txt":"Sat, 15","lvl":"tye"},{"col":29.214,"row":13.375,"txt":"Sun, 16","lvl":"tsa"},{"col":37.214,"row":13.375,"txt":"Mon, 17","lvl":"tma"},{"col":43.214,"row":13.375,"txt":"Tue, 18","lvl":"tvi"},
{"col":-9,"row":16.25,"txt":"Cloud Cover:","lvl":"w"},{"col":-9,"row":17.25,"txt":"ECMWF Cloud:","lvl":"w"},{"col":-9,"row":18.25,"txt":"Darkness:","lvl":"tdk"},
{"col":13.786,"row":20.9375,"txt":"© 2026 Attilla Danko","lvl":"w"},{"col":27.93,"row":20.9375,"txt":"forecast: A.Rahill","lvl":"w"},{"col":40.79,"row":20.9375,"txt":"data:","lvl":"w"}],
"digits":[
{"col":5,"row":-1.9375,"txt":"1","lvl":"tgr"},{"col":6,"row":-1.9375,"txt":"1","lvl":"tgr"},{"col":7,"row":-1.9375,"txt":"1","lvl":"tgr"},{"col":8,"row":-1.9375,"txt":"1","lvl":"tgr"},{"col":9,"row":-1.9375,"txt":"1","lvl":"tgr"},{"col":10,"row":-1.9375,"txt":"1","lvl":"tgr"},{"col":11,"row":-1.9375,"txt":"1","lvl":"tgr"},{"col":12,"row":-1.9375,"txt":"1","lvl":"tgr"},{"col":13,"row":-1.9375,"txt":"1","lvl":"tgr"},{"col":14,"row":-1.9375,"txt":"1","lvl":"tgr"},{"col":15,"row":-1.9375,"txt":"2","lvl":"tgr"},{"col":16,"row":-1.9375,"txt":"2","lvl":"tgr"},{"col":17,"row":-1.9375,"txt":"2","lvl":"tgr"},{"col":18,"row":-1.9375,"txt":"2","lvl":"tgr"},
{"col":29,"row":-1.9375,"txt":"1","lvl":"tye"},{"col":30,"row":-1.9375,"txt":"1","lvl":"tye"},{"col":31,"row":-1.9375,"txt":"1","lvl":"tye"},{"col":32,"row":-1.9375,"txt":"1","lvl":"tye"},{"col":33,"row":-1.9375,"txt":"1","lvl":"tye"},{"col":34,"row":-1.9375,"txt":"1","lvl":"tye"},{"col":35,"row":-1.9375,"txt":"1","lvl":"tye"},{"col":36,"row":-1.9375,"txt":"1","lvl":"tye"},{"col":37,"row":-1.9375,"txt":"1","lvl":"tye"},{"col":38,"row":-1.9375,"txt":"1","lvl":"tye"},{"col":39,"row":-1.9375,"txt":"2","lvl":"tye"},{"col":40,"row":-1.9375,"txt":"2","lvl":"tye"},{"col":41,"row":-1.9375,"txt":"2","lvl":"tye"},{"col":42,"row":-1.9375,"txt":"2","lvl":"tye"},
{"col":53,"row":-1.9375,"txt":"1","lvl":"tsa"},{"col":54,"row":-1.9375,"txt":"1","lvl":"tsa"},{"col":55,"row":-1.9375,"txt":"1","lvl":"tsa"},{"col":56,"row":-1.9375,"txt":"1","lvl":"tsa"},{"col":57,"row":-1.9375,"txt":"1","lvl":"tsa"},{"col":58,"row":-1.9375,"txt":"1","lvl":"tsa"},{"col":59,"row":-1.9375,"txt":"1","lvl":"tsa"},{"col":60,"row":-1.9375,"txt":"1","lvl":"tsa"},{"col":61,"row":-1.9375,"txt":"1","lvl":"tsa"},{"col":62,"row":-1.9375,"txt":"1","lvl":"tsa"},{"col":63,"row":-1.9375,"txt":"2","lvl":"tsa"},{"col":64,"row":-1.9375,"txt":"2","lvl":"tsa"},{"col":65,"row":-1.9375,"txt":"2","lvl":"tsa"},{"col":66,"row":-1.9375,"txt":"2","lvl":"tsa"},
{"col":77,"row":-1.9375,"txt":"1","lvl":"tma"},{"col":78,"row":-1.9375,"txt":"1","lvl":"tma"},{"col":79,"row":-1.9375,"txt":"1","lvl":"tma"},{"col":80,"row":-1.9375,"txt":"1","lvl":"tma"},{"col":81,"row":-1.9375,"txt":"1","lvl":"tma"},
{"col":0,"row":-1,"txt":"5","lvl":"tgr"},{"col":1,"row":-1,"txt":"6","lvl":"tgr"},{"col":2,"row":-1,"txt":"7","lvl":"tgr"},{"col":3,"row":-1,"txt":"8","lvl":"tgr"},{"col":4,"row":-1,"txt":"9","lvl":"tgr"},{"col":5,"row":-1,"txt":"0","lvl":"tgr"},{"col":6,"row":-1,"txt":"1","lvl":"tgr"},{"col":7,"row":-1,"txt":"2","lvl":"tgr"},{"col":8,"row":-1,"txt":"3","lvl":"tgr"},{"col":9,"row":-1,"txt":"4","lvl":"tgr"},{"col":10,"row":-1,"txt":"5","lvl":"tgr"},{"col":11,"row":-1,"txt":"6","lvl":"tgr"},{"col":12,"row":-1,"txt":"7","lvl":"tgr"},{"col":13,"row":-1,"txt":"8","lvl":"tgr"},{"col":14,"row":-1,"txt":"9","lvl":"tgr"},{"col":15,"row":-1,"txt":"0","lvl":"tgr"},{"col":16,"row":-1,"txt":"1","lvl":"tgr"},{"col":17,"row":-1,"txt":"2","lvl":"tgr"},{"col":18,"row":-1,"txt":"3","lvl":"tgr"},
{"col":19,"row":-1,"txt":"0","lvl":"tye"},{"col":20,"row":-1,"txt":"1","lvl":"tye"},{"col":21,"row":-1,"txt":"2","lvl":"tye"},{"col":22,"row":-1,"txt":"3","lvl":"tye"},{"col":23,"row":-1,"txt":"4","lvl":"tye"},{"col":24,"row":-1,"txt":"5","lvl":"tye"},{"col":25,"row":-1,"txt":"6","lvl":"tye"},{"col":26,"row":-1,"txt":"7","lvl":"tye"},{"col":27,"row":-1,"txt":"8","lvl":"tye"},{"col":28,"row":-1,"txt":"9","lvl":"tye"},{"col":29,"row":-1,"txt":"0","lvl":"tye"},{"col":30,"row":-1,"txt":"1","lvl":"tye"},{"col":31,"row":-1,"txt":"2","lvl":"tye"},{"col":32,"row":-1,"txt":"3","lvl":"tye"},{"col":33,"row":-1,"txt":"4","lvl":"tye"},{"col":34,"row":-1,"txt":"5","lvl":"tye"},{"col":35,"row":-1,"txt":"6","lvl":"tye"},{"col":36,"row":-1,"txt":"7","lvl":"tye"},{"col":37,"row":-1,"txt":"8","lvl":"tye"},{"col":38,"row":-1,"txt":"9","lvl":"tye"},{"col":39,"row":-1,"txt":"0","lvl":"tye"},{"col":40,"row":-1,"txt":"1","lvl":"tye"},{"col":41,"row":-1,"txt":"2","lvl":"tye"},{"col":42,"row":-1,"txt":"3","lvl":"tye"},
{"col":43,"row":-1,"txt":"0","lvl":"tsa"},{"col":44,"row":-1,"txt":"1","lvl":"tsa"},{"col":45,"row":-1,"txt":"2","lvl":"tsa"},{"col":46,"row":-1,"txt":"3","lvl":"tsa"},{"col":47,"row":-1,"txt":"4","lvl":"tsa"},{"col":48,"row":-1,"txt":"5","lvl":"tsa"},{"col":49,"row":-1,"txt":"6","lvl":"tsa"},{"col":50,"row":-1,"txt":"7","lvl":"tsa"},{"col":51,"row":-1,"txt":"8","lvl":"tsa"},{"col":52,"row":-1,"txt":"9","lvl":"tsa"},{"col":53,"row":-1,"txt":"0","lvl":"tsa"},{"col":54,"row":-1,"txt":"1","lvl":"tsa"},{"col":55,"row":-1,"txt":"2","lvl":"tsa"},{"col":56,"row":-1,"txt":"3","lvl":"tsa"},{"col":57,"row":-1,"txt":"4","lvl":"tsa"},{"col":58,"row":-1,"txt":"5","lvl":"tsa"},{"col":59,"row":-1,"txt":"6","lvl":"tsa"},{"col":60,"row":-1,"txt":"7","lvl":"tsa"},{"col":61,"row":-1,"txt":"8","lvl":"tsa"},{"col":62,"row":-1,"txt":"9","lvl":"tsa"},{"col":63,"row":-1,"txt":"0","lvl":"tsa"},{"col":64,"row":-1,"txt":"1","lvl":"tsa"},{"col":65,"row":-1,"txt":"2","lvl":"tsa"},{"col":66,"row":-1,"txt":"3","lvl":"tsa"},
{"col":67,"row":-1,"txt":"0","lvl":"tma"},{"col":68,"row":-1,"txt":"1","lvl":"tma"},{"col":69,"row":-1,"txt":"2","lvl":"tma"},{"col":70,"row":-1,"txt":"3","lvl":"tma"},{"col":71,"row":-1,"txt":"4","lvl":"tma"},{"col":72,"row":-1,"txt":"5","lvl":"tma"},{"col":73,"row":-1,"txt":"6","lvl":"tma"},{"col":74,"row":-1,"txt":"7","lvl":"tma"},{"col":75,"row":-1,"txt":"8","lvl":"tma"},{"col":76,"row":-1,"txt":"9","lvl":"tma"},{"col":77,"row":-1,"txt":"0","lvl":"tma"},{"col":78,"row":-1,"txt":"1","lvl":"tma"},{"col":79,"row":-1,"txt":"2","lvl":"tma"},{"col":80,"row":-1,"txt":"3","lvl":"tma"},{"col":81,"row":-1,"txt":"4","lvl":"tma"},
{"col":0,"row":14.3125,"txt":"1","lvl":"tma"},{"col":1,"row":14.3125,"txt":"2","lvl":"tma"},{"col":2,"row":14.3125,"txt":"2","lvl":"tma"},{"col":6,"row":14.3125,"txt":"1","lvl":"tvi"},{"col":7,"row":14.3125,"txt":"1","lvl":"tvi"},{"col":8,"row":14.3125,"txt":"1","lvl":"tvi"},{"col":9,"row":14.3125,"txt":"2","lvl":"tvi"},{"col":10,"row":14.3125,"txt":"2","lvl":"tvi"},{"col":14,"row":14.3125,"txt":"1","lvl":"tgr"},{"col":15,"row":14.3125,"txt":"1","lvl":"tgr"},{"col":16,"row":14.3125,"txt":"1","lvl":"tgr"},{"col":17,"row":14.3125,"txt":"2","lvl":"tgr"},{"col":18,"row":14.3125,"txt":"2","lvl":"tgr"},{"col":22,"row":14.3125,"txt":"1","lvl":"tye"},{"col":23,"row":14.3125,"txt":"1","lvl":"tye"},{"col":24,"row":14.3125,"txt":"1","lvl":"tye"},{"col":25,"row":14.3125,"txt":"2","lvl":"tye"},{"col":26,"row":14.3125,"txt":"2","lvl":"tye"},{"col":30,"row":14.3125,"txt":"1","lvl":"tsa"},{"col":31,"row":14.3125,"txt":"1","lvl":"tsa"},{"col":32,"row":14.3125,"txt":"1","lvl":"tsa"},{"col":33,"row":14.3125,"txt":"2","lvl":"tsa"},{"col":34,"row":14.3125,"txt":"2","lvl":"tsa"},{"col":38,"row":14.3125,"txt":"1","lvl":"tma"},{"col":39,"row":14.3125,"txt":"1","lvl":"tma"},{"col":40,"row":14.3125,"txt":"1","lvl":"tma"},{"col":41,"row":14.3125,"txt":"2","lvl":"tma"},{"col":42,"row":14.3125,"txt":"2","lvl":"tma"},{"col":46,"row":14.3125,"txt":"1","lvl":"tvi"},{"col":47,"row":14.3125,"txt":"1","lvl":"tvi"},
{"col":0,"row":15.25,"txt":"7","lvl":"tma"},{"col":1,"row":15.25,"txt":"0","lvl":"tma"},{"col":2,"row":15.25,"txt":"3","lvl":"tma"},
{"col":3,"row":15.25,"txt":"2","lvl":"tvi"},{"col":4,"row":15.25,"txt":"5","lvl":"tvi"},{"col":5,"row":15.25,"txt":"8","lvl":"tvi"},{"col":6,"row":15.25,"txt":"1","lvl":"tvi"},{"col":7,"row":15.25,"txt":"4","lvl":"tvi"},{"col":8,"row":15.25,"txt":"7","lvl":"tvi"},{"col":9,"row":15.25,"txt":"0","lvl":"tvi"},{"col":10,"row":15.25,"txt":"3","lvl":"tvi"},
{"col":11,"row":15.25,"txt":"2","lvl":"tgr"},{"col":12,"row":15.25,"txt":"5","lvl":"tgr"},{"col":13,"row":15.25,"txt":"8","lvl":"tgr"},{"col":14,"row":15.25,"txt":"1","lvl":"tgr"},{"col":15,"row":15.25,"txt":"4","lvl":"tgr"},{"col":16,"row":15.25,"txt":"7","lvl":"tgr"},{"col":17,"row":15.25,"txt":"0","lvl":"tgr"},{"col":18,"row":15.25,"txt":"3","lvl":"tgr"},
{"col":19,"row":15.25,"txt":"2","lvl":"tye"},{"col":20,"row":15.25,"txt":"5","lvl":"tye"},{"col":21,"row":15.25,"txt":"8","lvl":"tye"},{"col":22,"row":15.25,"txt":"1","lvl":"tye"},{"col":23,"row":15.25,"txt":"4","lvl":"tye"},{"col":24,"row":15.25,"txt":"7","lvl":"tye"},{"col":25,"row":15.25,"txt":"0","lvl":"tye"},{"col":26,"row":15.25,"txt":"3","lvl":"tye"},
{"col":27,"row":15.25,"txt":"2","lvl":"tsa"},{"col":28,"row":15.25,"txt":"5","lvl":"tsa"},{"col":29,"row":15.25,"txt":"8","lvl":"tsa"},{"col":30,"row":15.25,"txt":"1","lvl":"tsa"},{"col":31,"row":15.25,"txt":"4","lvl":"tsa"},{"col":32,"row":15.25,"txt":"7","lvl":"tsa"},{"col":33,"row":15.25,"txt":"0","lvl":"tsa"},{"col":34,"row":15.25,"txt":"3","lvl":"tsa"},
{"col":35,"row":15.25,"txt":"2","lvl":"tma"},{"col":36,"row":15.25,"txt":"5","lvl":"tma"},{"col":37,"row":15.25,"txt":"8","lvl":"tma"},{"col":38,"row":15.25,"txt":"1","lvl":"tma"},{"col":39,"row":15.25,"txt":"4","lvl":"tma"},{"col":40,"row":15.25,"txt":"7","lvl":"tma"},{"col":41,"row":15.25,"txt":"0","lvl":"tma"},{"col":42,"row":15.25,"txt":"3","lvl":"tma"},
{"col":43,"row":15.25,"txt":"2","lvl":"tvi"},{"col":44,"row":15.25,"txt":"5","lvl":"tvi"},{"col":45,"row":15.25,"txt":"8","lvl":"tvi"},{"col":46,"row":15.25,"txt":"1","lvl":"tvi"},{"col":47,"row":15.25,"txt":"4","lvl":"tvi"}]
},
"encoding":{
"x":{"field":"col","type":"quantitative","axis":null,"scale":{"domain":[0,81],"range":[140,1274],"nice":false,"zero":false}},
"y":{"field":"row","type":"quantitative","axis":null,"scale":{"domain":[0,10],"range":[83,243],"nice":false,"zero":false}},
"color":{"field":"lvl","type":"nominal","legend":null,"scale":{
"domain":["b0","b1","b1x","b2","b3","b4","b5","t1","t2","t3","tg","g0","g1","g2","g3","w","hr1","hr2","hr3","ho1","ho2","hy1","hy2","hl","hm","hc","hs","tp1","tp2","tp3","tp4","n0","n1","n2","bl","cy","tl","o1","o2","o3","o4","o5","o6","rd","sky","gnd","tgr","tye","tsa","tma","tvi","tol","tdk","tcy","blk"],
"range":["#003f7f","#0f5296","#1d5ea4","#2b6cae","#4788cf","#63a5e6","#6cadee","#94d5d5","#a8e8e8","#b8ffff","#85bfbf","#c0c0c0","#dddddd","#e8e8e8","#f6f6f6","#ffffff","#e00000","#b80000","#f00000","#ff3300","#ff8800","#ffcc00","#eeff11","#99ff66","#5dffb0","#00ffea","#75b4f7","#ff5900","#ff9f00","#ff2000","#e00000","#000060","#000090","#0000c8","#0066dd","#00ccff","#30c0a0","#ffaa33","#ffc878","#ffdcac","#ffe8c8","#fff0dc","#fff8f0","#ff0000","#0066dd","#4d6b00","#66ff66","#ffff00","#ff7777","#ff00ff","#7777ff","#cccc00","#8c8c2e","#00c8c8","#000000"]}}
},
"layer":[
{"data":{"name":"panels"},"mark":{"type":"rect"},"encoding":{"x2":{"field":"col2"},"y2":{"field":"row2"}}},
{"data":{"name":"cells"},"mark":{"type":"rect","width":12,"height":12}},
{"data":{"name":"links"},"mark":{"type":"rect","width":2,"height":8}},
{"data":{"name":"slices4"},"mark":{"type":"rect","width":3,"height":12}},
{"data":{"name":"slices2"},"mark":{"type":"rect","width":6,"height":12}},
{"data":{"name":"rules"},"mark":{"type":"rule","strokeWidth":2},"encoding":{"y2":{"field":"row2"}}},
{"data":{"name":"leaf"},"mark":{"type":"point","filled":true,"opacity":1,"size":144,"shape":"M0,-1L0.2,-0.55L0.45,-0.7L0.35,-0.15L0.6,-0.35L0.7,-0.1L1,-0.15L0.85,0.2L0.95,0.3L0.45,0.65L0.5,0.85L0.05,0.75L0.05,1L-0.05,1L-0.05,0.75L-0.5,0.85L-0.45,0.65L-0.95,0.3L-0.85,0.2L-1,-0.15L-0.7,-0.1L-0.6,-0.35L-0.35,-0.15L-0.45,-0.7L-0.2,-0.55Z"}},
{"data":{"name":"labels"},"mark":{"type":"text","font":"Liberation Mono","fontSize":15,"align":"left","baseline":"alphabetic","dy":3},"encoding":{"text":{"field":"txt"}}},
{"data":{"name":"digits"},"mark":{"type":"text","font":"Liberation Mono","fontSize":15,"align":"center","baseline":"alphabetic","dy":3},"encoding":{"text":{"field":"txt"}}},
{"data":{"values":[{"col":17.43,"row":-4.25,"txt":"Roger Twitchell Observatory","lvl":"tye"},{"col":41.43,"row":-4.25,"txt":"Clear Sky Chart","lvl":"tcy"}]},"mark":{"type":"text","font":"DejaVu Sans Mono","fontSize":20,"fontWeight":"bold","align":"left","baseline":"alphabetic","dy":3},"encoding":{"text":{"field":"txt"}}},
{"data":{"values":[{"col":-9.786,"row":-1.3125,"txt":"(GMT -4+0)","lvl":"tol"},{"col":-9.786,"row":14.9375,"txt":"(GMT -4+0)","lvl":"tol"}]},"mark":{"type":"text","font":"DejaVu Sans Mono","fontSize":7.5,"align":"left","baseline":"alphabetic","dy":3},"encoding":{"text":{"field":"txt"}}},
{"data":{"values":[{"col":-9.571,"row":2,"txt":"-- Sky --","lvl":"tye"},{"col":-9.571,"row":8.5,"txt":"- Ground -","lvl":"w"},{"col":-9.571,"row":17.25,"txt":"- Sky -","lvl":"tye"}]},"mark":{"type":"text","font":"Liberation Mono","fontSize":10,"angle":270,"align":"center","baseline":"middle"},"encoding":{"text":{"field":"txt"}}},
{"data":{"values":[{"col":48.857,"row":20.5625,"txt":"Environment","lvl":"blk"},{"col":48.857,"row":21.0625,"txt":"Canada","lvl":"blk"},{"col":53.571,"row":20.5625,"txt":"Environnement","lvl":"blk"},{"col":53.571,"row":21.0625,"txt":"Canada","lvl":"blk"}]},"mark":{"type":"text","font":"Liberation Mono","fontSize":7.7,"align":"left","baseline":"alphabetic","dy":3},"encoding":{"text":{"field":"txt"}}}
]}
